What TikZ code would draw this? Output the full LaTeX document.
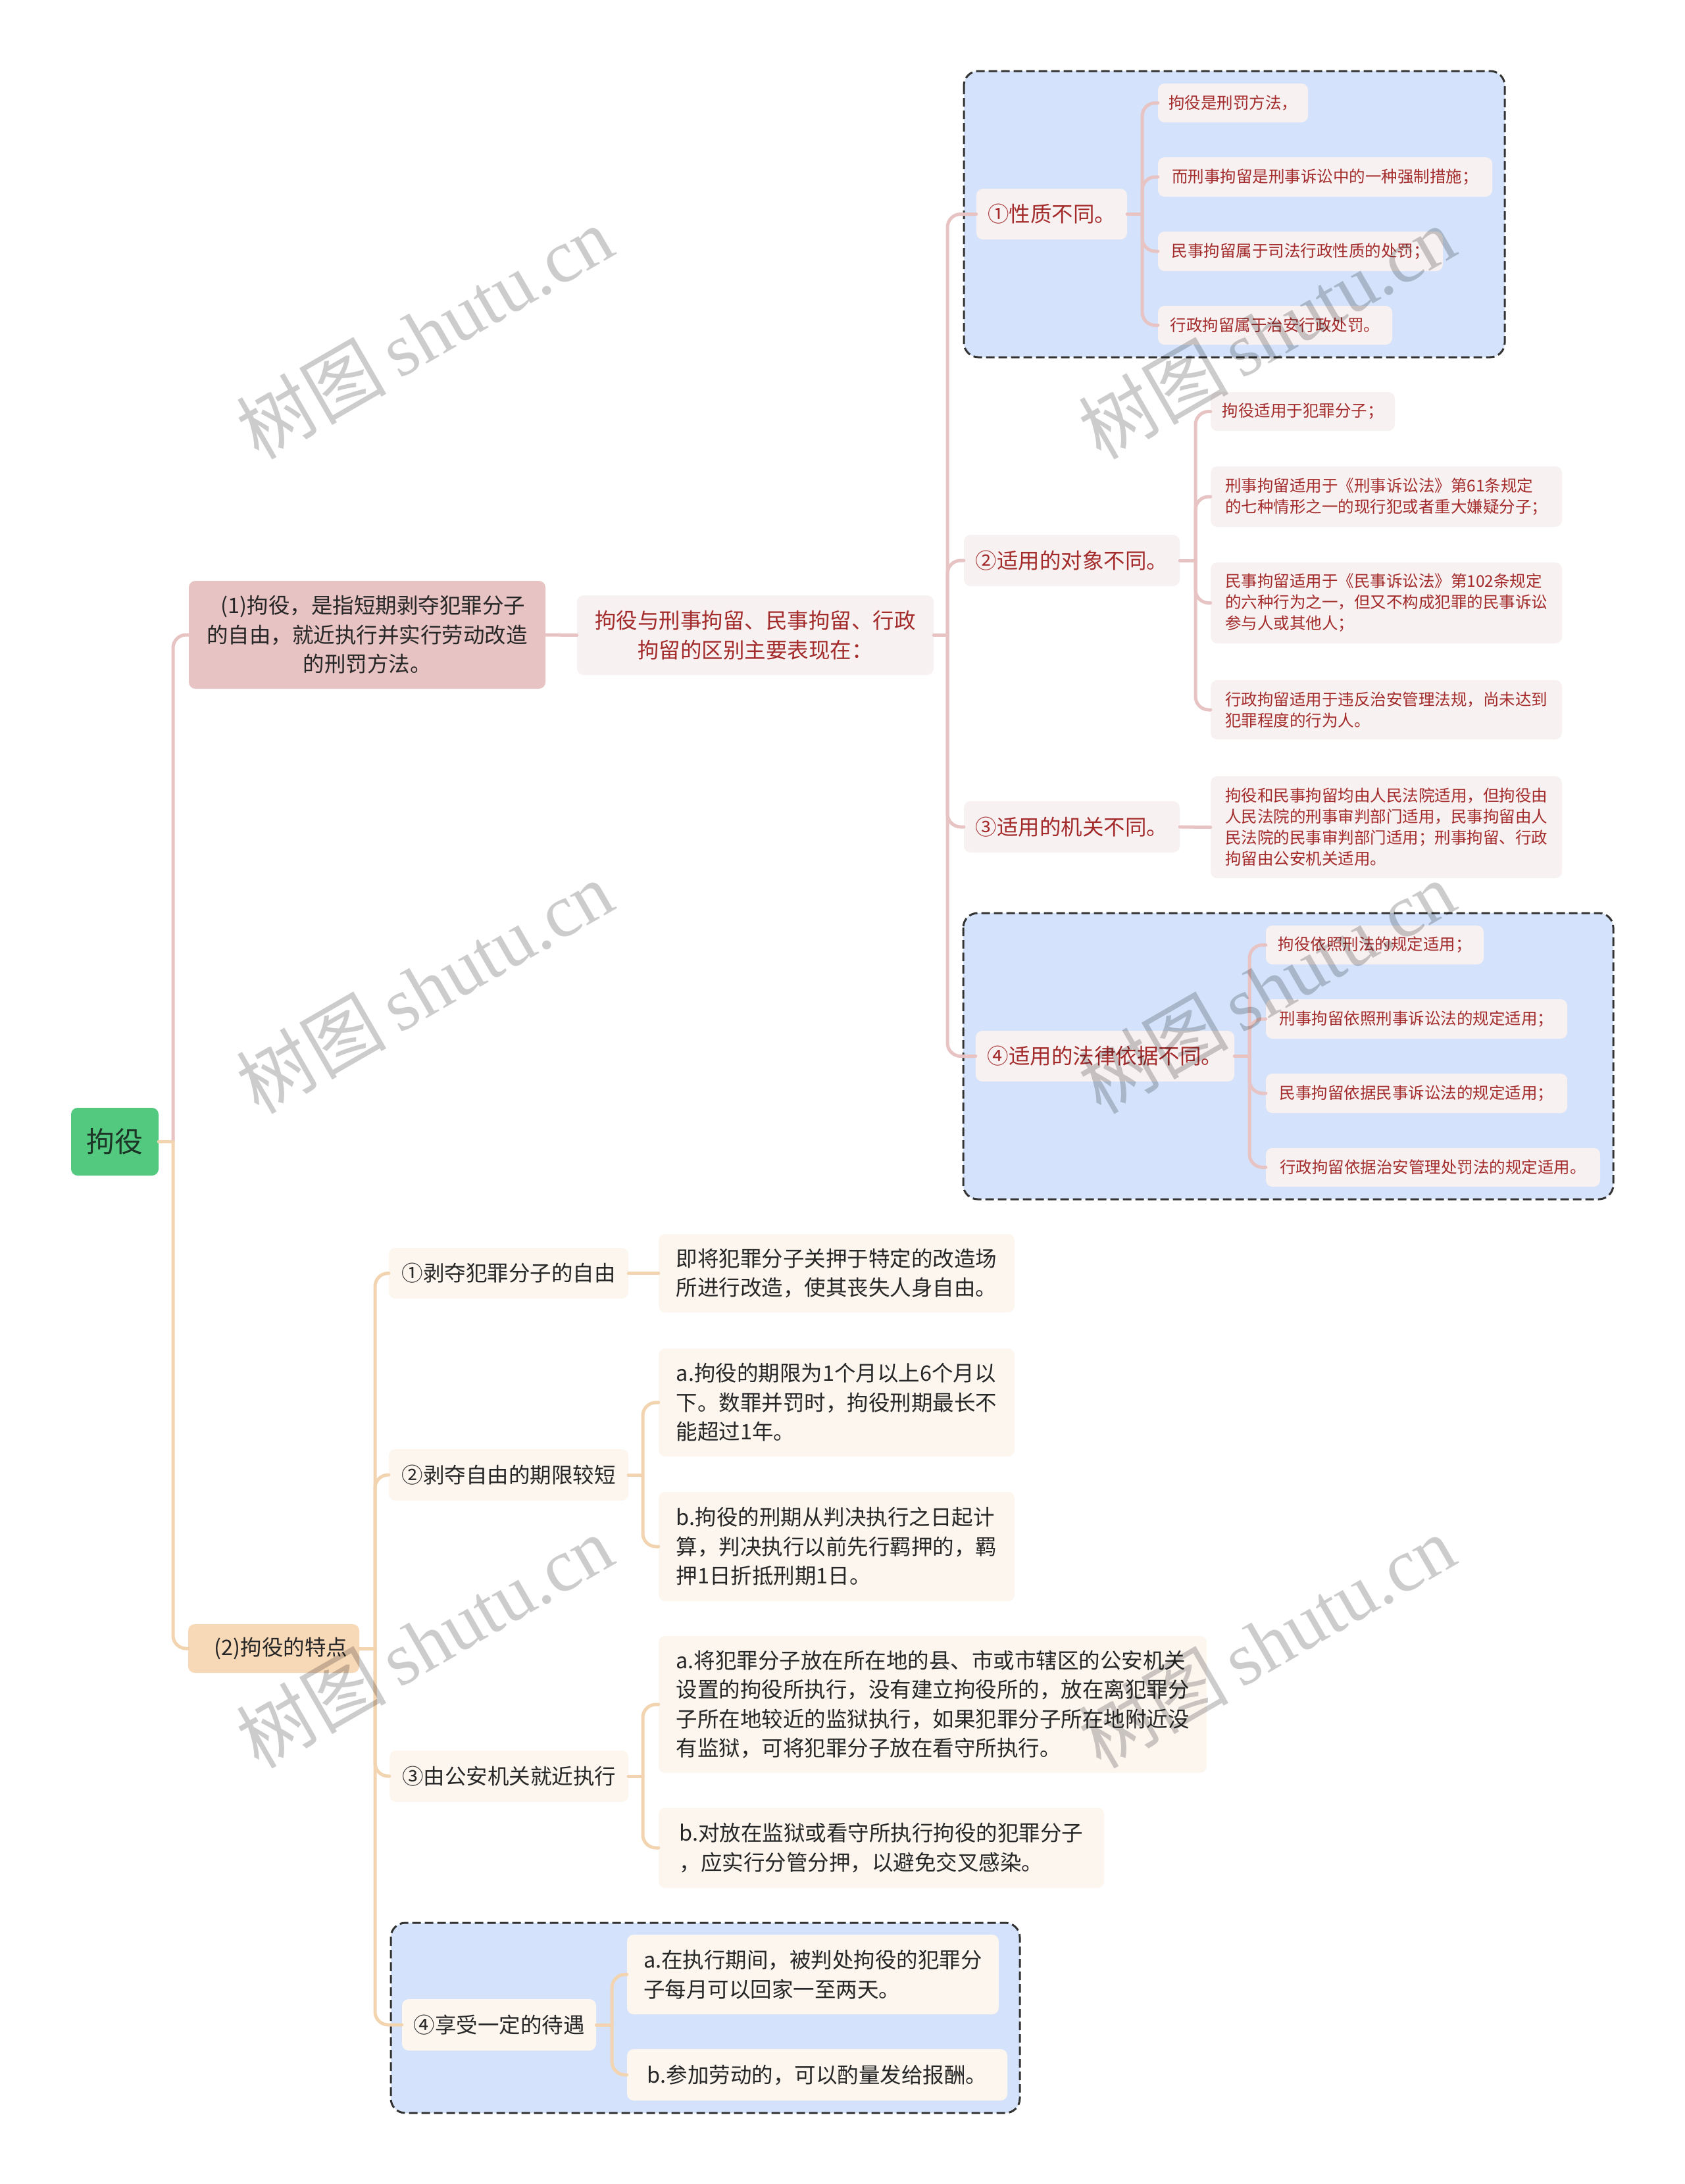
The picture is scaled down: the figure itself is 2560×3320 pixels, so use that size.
\documentclass[tikz,border=0pt]{standalone}
\usepackage{fontspec}
\setmainfont{Noto Sans CJK SC}
\newfontfamily\wmlatin{Liberation Serif}
\newfontfamily\wmcjk{Noto Sans CJK SC}
\definecolor{rootg}{HTML}{52C97F}
\definecolor{roott}{HTML}{1D3526}
\definecolor{pinkln}{HTML}{E7C3C3}
\definecolor{pinkbg}{HTML}{E8C3C3}
\definecolor{lpink}{HTML}{F8F1F1}
\definecolor{redt}{HTML}{A32B2B}
\definecolor{orln}{HTML}{F3D4B1}
\definecolor{orbg}{HTML}{F7D8B7}
\definecolor{lor}{HTML}{FCF6EF}
\definecolor{dkt}{HTML}{262626}
\definecolor{blubg}{HTML}{D4E3FB}
\definecolor{dashc}{HTML}{333333}
\newcommand\fsmain{\fontsize{32.5}{44.5}\selectfont}
\newcommand\fssmall{\fontsize{24.5}{32}\selectfont}
\tikzset{
  x=1pt, y=-1pt,
  boxbase/.style={rounded corners=10pt, inner xsep=0pt, inner ysep=0pt},
  rootnode/.style={boxbase, fill=rootg, text=roott, font=\fontsize{43}{50}\selectfont},
  pinkmain/.style={boxbase, fill=pinkbg, text=dkt, font=\fsmain, align=center},
  pinkmid/.style={boxbase, fill=lpink, text=redt, font=\fsmain, align=center},
  pinkleaf/.style={boxbase, fill=lpink, text=redt, font=\fssmall, align=left},
  ormain/.style={boxbase, fill=orbg, text=dkt, font=\fsmain, align=center},
  ormid/.style={boxbase, fill=lor, text=dkt, font=\fsmain, align=center},
  orleaf/.style={boxbase, fill=lor, text=dkt, font=\fsmain, align=left},
  pinkedge/.style={draw=pinkln, line width=5pt, line cap=round, rounded corners=20pt},
  oredge/.style={draw=orln, line width=5pt, line cap=round, rounded corners=20pt},
  summarybox/.style={draw=dashc, fill=blubg, line width=3pt, dash pattern=on 13pt off 6pt, rounded corners=22pt},
  wmark/.style={text=black, text opacity=0.2, rotate=30, inner sep=0pt}
}
\begin{document}
\begin{tikzpicture}
\useasboundingbox (0,0) rectangle (2560,3320);
\fill[white] (0,0) rectangle (2560,3320);

% summary (dashed) boxes
\draw[summarybox] (1465,108) rectangle (2287,543);
\draw[summarybox] (1464,1388) rectangle (2452,1823);
\draw[summarybox] (594,2923) rectangle (1550,3212);

% nodes
\node[rootnode, minimum width=133pt, minimum height=103pt] (root) at (174.5,1735.5) {拘役};

\node[pinkmain, minimum width=542pt, minimum height=164pt] (n1) at (558,965) {\hspace*{18pt}(1)拘役，是指短期剥夺犯罪分子\\的自由，就近执行并实行劳动改造\\的刑罚方法。};
\node[pinkmid, minimum width=542pt, minimum height=121pt] (n1a) at (1148,965.5) {拘役与刑事拘留、民事拘留、行政\\拘留的区别主要表现在：};

\node[pinkmid, minimum width=229pt, minimum height=77pt] (q1) at (1598.5,325.5) {①性质不同。};
\node[pinkleaf, minimum width=228pt, minimum height=59pt] (l11) at (1874,156.5) {拘役是刑罚方法，};
\node[pinkleaf, minimum width=508pt, minimum height=60pt] (l12) at (2014,269) {而刑事拘留是刑事诉讼中的一种强制措施；};
\node[pinkleaf, minimum width=433pt, minimum height=60pt] (l13) at (1976.5,382) {民事拘留属于司法行政性质的处罚；};
\node[pinkleaf, minimum width=356pt, minimum height=59pt] (l14) at (1938,494.5) {行政拘留属于治安行政处罚。};

\node[pinkmid, minimum width=328pt, minimum height=78pt] (q2) at (1629,852) {②适用的对象不同。};
\node[pinkleaf, minimum width=280pt, minimum height=59pt] (l21) at (1980,625.5) {拘役适用于犯罪分子；};
\node[pinkleaf, minimum width=534pt, minimum height=92pt] (l22) at (2107,755) {刑事拘留适用于《刑事诉讼法》第61条规定\\的七种情形之一的现行犯或者重大嫌疑分子；};
\node[pinkleaf, minimum width=534pt, minimum height=123pt] (l23) at (2107,916.5) {民事拘留适用于《民事诉讼法》第102条规定\\的六种行为之一，但又不构成犯罪的民事诉讼\\参与人或其他人；};
\node[pinkleaf, minimum width=534pt, minimum height=90pt] (l24) at (2107,1079) {行政拘留适用于违反治安管理法规，尚未达到\\犯罪程度的行为人。};

\node[pinkmid, minimum width=328pt, minimum height=78pt] (q3) at (1629,1257) {③适用的机关不同。};
\node[pinkleaf, minimum width=534pt, minimum height=155pt] (l31) at (2107,1257.5) {拘役和民事拘留均由人民法院适用，但拘役由\\人民法院的刑事审判部门适用，民事拘留由人\\民法院的民事审判部门适用；刑事拘留、行政\\拘留由公安机关适用。};

\node[pinkmid, minimum width=393pt, minimum height=77pt] (q4) at (1679.5,1605.5) {④适用的法律依据不同。};
\node[pinkleaf, minimum width=331pt, minimum height=59pt] (l41) at (2089.5,1436.5) {拘役依照刑法的规定适用；};
\node[pinkleaf, minimum width=458pt, minimum height=60pt] (l42) at (2153,1549) {刑事拘留依照刑事诉讼法的规定适用；};
\node[pinkleaf, minimum width=458pt, minimum height=60pt] (l43) at (2153,1662) {民事拘留依据民事诉讼法的规定适用；};
\node[pinkleaf, minimum width=508pt, minimum height=59pt] (l44) at (2178,1774.5) {行政拘留依据治安管理处罚法的规定适用。};

\node[ormain, minimum width=260pt, minimum height=74pt] (n2) at (416,2506) {\hspace*{22pt}(2)拘役的特点};

\node[ormid, minimum width=364pt, minimum height=77pt] (m1) at (773,1935.5) {①剥夺犯罪分子的自由};
\node[orleaf, minimum width=541pt, minimum height=119pt] (m1a) at (1271.5,1935.5) {即将犯罪分子关押于特定的改造场\\所进行改造，使其丧失人身自由。};

\node[ormid, minimum width=364pt, minimum height=78pt] (m2) at (773,2242) {②剥夺自由的期限较短};
\node[orleaf, minimum width=541pt, minimum height=164pt] (m2a) at (1271.5,2132) {a.拘役的期限为1个月以上6个月以\\下。数罪并罚时，拘役刑期最长不\\能超过1年。};
\node[orleaf, minimum width=541pt, minimum height=166pt] (m2b) at (1271.5,2351) {b.拘役的刑期从判决执行之日起计\\算，判决执行以前先行羁押的，羁\\押1日折抵刑期1日。};

\node[ormid, minimum width=363pt, minimum height=78pt] (m3) at (773.5,2700) {③由公安机关就近执行};
\node[orleaf, minimum width=833pt, minimum height=208pt] (m3a) at (1417.5,2591) {a.将犯罪分子放在所在地的县、市或市辖区的公安机关\\设置的拘役所执行，没有建立拘役所的，放在离犯罪分\\子所在地较近的监狱执行，如果犯罪分子所在地附近没\\有监狱，可将犯罪分子放在看守所执行。};
\node[orleaf, minimum width=677pt, minimum height=122pt] (m3b) at (1339.5,2809) {b.对放在监狱或看守所执行拘役的犯罪分子\\，应实行分管分押，以避免交叉感染。};

\node[ormid, minimum width=295pt, minimum height=78pt] (m4) at (758.5,3078) {④享受一定的待遇};
\node[orleaf, minimum width=565pt, minimum height=121pt] (m4a) at (1235.5,3001.5) {a.在执行期间，被判处拘役的犯罪分\\子每月可以回家一至两天。};
\node[orleaf, minimum width=578pt, minimum height=78pt] (m4b) at (1242,3154) {b.参加劳动的，可以酌量发给报酬。};

% spine coordinates
\coordinate (s0) at (263,1735.5);
\coordinate (s1) at (1440,965.5);
\coordinate (sq1) at (1736,325.5);
\coordinate (sq2) at (1817,852);
\coordinate (sq4) at (1899,1605.5);
\coordinate (s2) at (570,2506);
\coordinate (sm2) at (977,2242);
\coordinate (sm3) at (977,2700);
\coordinate (sm4) at (930,3078);

% connectors
\draw[oredge] (root.east) -- (s0);
\draw[pinkedge] (s0) |- (n1.west);
\draw[oredge] (s0) |- (n2.west);

\draw[pinkedge] (n1.east) -- (n1a.west);
\draw[pinkedge] (n1a.east) -- (s1);
\foreach \c in {q1,q2,q3,q4} \draw[pinkedge] (s1) |- (\c.west);

\draw[pinkedge] (q1.east) -- (sq1);
\foreach \c in {l11,l12,l13,l14} \draw[pinkedge] (sq1) |- (\c.west);
\draw[pinkedge] (q2.east) -- (sq2);
\foreach \c in {l21,l22,l23,l24} \draw[pinkedge] (sq2) |- (\c.west);
\draw[pinkedge] (q3.east) -- (l31.west);
\draw[pinkedge] (q4.east) -- (sq4);
\foreach \c in {l41,l42,l43,l44} \draw[pinkedge] (sq4) |- (\c.west);

\draw[oredge] (n2.east) -- (s2);
\foreach \c in {m1,m2,m3,m4} \draw[oredge] (s2) |- (\c.west);
\draw[oredge] (m1.east) -- (m1a.west);
\draw[oredge] (m2.east) -- (sm2);
\foreach \c in {m2a,m2b} \draw[oredge] (sm2) |- (\c.west);
\draw[oredge] (m3.east) -- (sm3);
\foreach \c in {m3a,m3b} \draw[oredge] (sm3) |- (\c.west);
\draw[oredge] (m4.east) -- (sm4);
\foreach \c in {m4a,m4b} \draw[oredge] (sm4) |- (\c.west);

% watermarks
\foreach \wx/\wy [count=\i] in {645/505, 1925/505, 645/1500, 1925/1500, 645/2495, 1925/2495}
  \node[wmark] (wm\i) at (\wx,\wy) {\fontsize{114}{114}\selectfont\wmcjk 树图\,\wmlatin shutu.cn};
\end{tikzpicture}
\end{document}
